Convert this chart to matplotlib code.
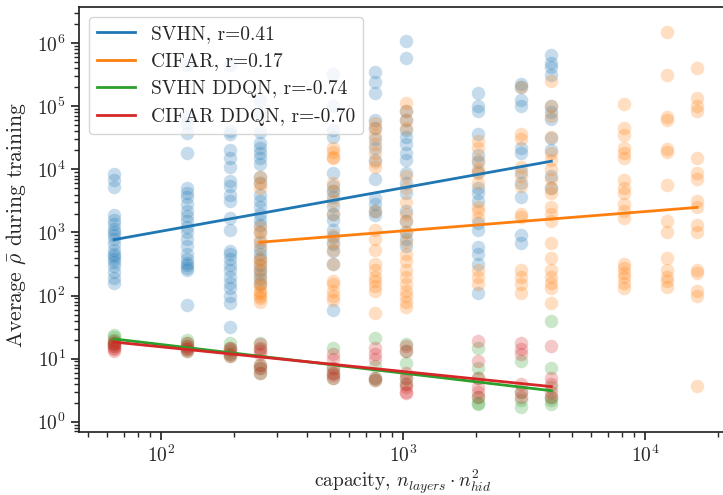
import numpy as np
import matplotlib
matplotlib.use("Agg")
import matplotlib.pyplot as plt
from matplotlib.ticker import LogLocator, NullFormatter

# ---------------- data ----------------
svhn_caps = [64, 128, 192, 256, 512, 768, 1024, 2048, 3072, 4096]
svhn_vals = [
    [8500, 6800, 5300, 1900, 1600, 1350, 1150, 1000, 900, 800, 650, 520, 460, 420, 380, 340, 290, 240, 190, 160],
    [450000, 70000, 55000, 38000, 18000, 5000, 4200, 3600, 2800, 2200, 1800, 1500, 1200, 1000, 800, 600, 450, 380, 330, 300, 270, 250, 70],
    [450000, 40000, 36000, 20000, 15000, 11000, 6500, 5500, 4000, 3200, 1700, 1100, 500, 450, 380, 300, 250, 200, 160, 130, 100, 75, 32],
    [125000, 77000, 39000, 26000, 22000, 18000, 15000, 12000, 7500, 6000, 4000, 3200, 2500, 2000, 1600, 1300, 1000, 700, 550, 450, 380, 300, 250, 220, 180, 150],
    [330000, 100000, 42000, 33000, 8700, 5500, 4500, 3600, 2600, 2000, 1600, 1100, 850, 650, 500, 320, 58],
    [350000, 245000, 160000, 60000, 45000, 30000, 22000, 14000, 7100, 3500, 2800, 2200, 1900],
    [1100000, 580000, 85000, 60000, 42000, 33000, 25000, 18000, 14000, 8700, 6000, 4200, 2200, 1500, 1000, 800, 600],
    [165000, 100000, 85000, 37000, 17000, 13000, 9000, 5000, 4200, 3200, 1400, 1100, 580, 450, 320, 108],
    [230000, 200000, 125000, 100000, 22000, 18000, 9000, 6000, 3600, 900, 680],
    [650000, 480000, 420000, 310000, 100000, 80000, 62000, 32000, 20000, 8000, 5000],
]

cifar_caps = [256, 512, 768, 1024, 2048, 3072, 4096, 8192, 12288, 16384]
cifar_vals = [
    [7500, 6000, 5000, 1200, 1000, 800, 600, 400, 350, 300, 250, 200, 160, 140, 120, 110, 100, 90, 80],
    [22000, 19000, 16000, 15000, 6000, 4500, 3200, 2000, 900, 700, 520, 320, 170, 150, 120, 100, 85],
    [55000, 45000, 35000, 25000, 18000, 13000, 11000, 2200, 1100, 800, 520, 320, 250, 200, 170, 140, 120, 52],
    [115000, 85000, 60000, 45000, 8000, 5000, 3000, 2000, 1500, 1000, 700, 450, 350, 250, 200, 150, 120, 100, 80, 65],
    [28000, 22000, 14000, 10000, 8700, 6000, 2500, 1700, 2200, 250, 200, 155],
    [200000, 37000, 30000, 11000, 8000, 5500, 2000, 1750, 250, 200, 150, 108],
    [250000, 100000, 70000, 33000, 18000, 14000, 10000, 7000, 5000, 4200, 2500, 2000, 1500, 680, 390, 250, 200, 160, 130, 75],
    [110000, 45000, 35000, 22000, 18000, 15000, 6700, 5000, 4300, 2800, 2200, 1700, 320, 270, 230, 200, 160, 130],
    [1500000, 320000, 67000, 60000, 21000, 19000, 5600, 1500, 1000, 390, 250, 200, 170, 135],
    [400000, 135000, 100000, 85000, 15000, 8700, 7000, 3200, 2500, 1300, 1000, 250, 230, 120, 100, 3.7],
]

ddqn_caps = [64, 128, 192, 256, 512, 768, 1024, 2048, 3072, 4096]
svhn_ddqn_vals = [
    [24, 22, 20, 18, 17, 16],
    [20, 18, 16, 14, 13],
    [18, 15, 13, 12, 11],
    [18, 14, 8, 7, 6],
    [15, 7, 6, 5],
    [21, 7.7, 5, 4.5],
    [17, 13, 8.6, 5, 4],
    [15, 7, 5, 2.5, 2, 1.9],
    [9.3, 3, 2.2, 1.7],
    [40, 7.2, 3.5, 2.5, 2.2, 1.9],
]
cifar_ddqn_vals = [
    [19, 18, 17, 16, 15, 14, 13],
    [18, 16, 15, 14, 13],
    [15, 14, 12, 11],
    [17, 15, 13, 12, 8, 7, 6],
    [12, 10, 7, 6, 5.5, 5],
    [15, 12, 10, 5, 4.5],
    [16, 13, 6, 5, 4, 3.5, 3, 2.8],
    [19, 9.3, 5, 3.5, 3, 2.5],
    [18, 14, 12, 4, 3, 2.5],
    [16, 5, 4, 3, 2.5],
]

# fitted lines (log-log) end points
svhn_fit_x = [64, 4096]
svhn_fit_y = [770, 13500]
cifar_fit_x = [256, 16384]
cifar_fit_y = [700, 2500]
svhn_ddqn_fit_x = [64, 4096]
svhn_ddqn_fit_y = [20.5, 3.1]
cifar_ddqn_fit_x = [64, 4096]
cifar_ddqn_fit_y = [18.3, 3.6]

labels = ["SVHN, r=0.41", "CIFAR, r=0.17", "SVHN DDQN, r=-0.74", "CIFAR DDQN, r=-0.70"]
colors = ["#1f77b4", "#ff7f0e", "#2ca02c", "#d62728"]

# ---------------- style ----------------
plt.rcParams.update({
    "font.family": "serif",
    "font.serif": ["cmr10"],
    "mathtext.fontset": "cm",
    "axes.formatter.use_mathtext": True,
    "axes.unicode_minus": False,
    "font.size": 14,
    "axes.edgecolor": "#262626",
    "axes.linewidth": 1.25,
    "xtick.color": "#262626",
    "ytick.color": "#262626",
    "text.color": "#262626",
    "axes.labelcolor": "#262626",
    "xtick.major.size": 6, "ytick.major.size": 6,
    "xtick.minor.size": 3.5, "ytick.minor.size": 3.5,
    "xtick.major.width": 1.25, "ytick.major.width": 1.25,
    "xtick.minor.width": 1.0, "ytick.minor.width": 1.0,
})

fig = plt.figure(figsize=(7.23, 4.95), dpi=100)
ax = fig.add_axes([79/723, (495-431.7)/495, 648/723, 424.4/495])


def flatten(caps, vals):
    xs, ys = [], []
    for c, vs in zip(caps, vals):
        xs += [c] * len(vs)
        ys += list(vs)
    return xs, ys


series = [
    (svhn_caps, svhn_vals, svhn_fit_x, svhn_fit_y),
    (cifar_caps, cifar_vals, cifar_fit_x, cifar_fit_y),
    (ddqn_caps, svhn_ddqn_vals, svhn_ddqn_fit_x, svhn_ddqn_fit_y),
    (ddqn_caps, cifar_ddqn_vals, cifar_ddqn_fit_x, cifar_ddqn_fit_y),
]
for (caps, vals, fx, fy), col, lab in zip(series, colors, labels):
    xs, ys = flatten(caps, vals)
    ax.scatter(xs, ys, s=95, color=col, alpha=0.25, linewidths=0)
    ax.plot(fx, fy, color=col, lw=2.0, label=lab)

ax.set_xscale("log")
ax.set_yscale("log")
ax.set_xlim(10**1.661, 10**4.338)
ax.set_ylim(10**-0.159, 10**6.571)
ax.yaxis.set_major_locator(LogLocator(base=10, numticks=20))
ax.yaxis.set_minor_locator(LogLocator(base=10, subs=np.arange(2, 10), numticks=100))
ax.yaxis.set_minor_formatter(NullFormatter())
ax.xaxis.set_minor_locator(LogLocator(base=10, subs=np.arange(2, 10), numticks=100))
ax.xaxis.set_minor_formatter(NullFormatter())

ax.set_xlabel(r"capacity, $n_{layers} \cdot n_{hid}^2$", labelpad=1)
ax.set_ylabel(r"Average $\bar{\rho}$ during training", fontsize=15.5)
ax.yaxis.set_label_coords(-0.079, 0.487)

ax.legend(loc="upper left", fontsize=14, framealpha=0.8, borderaxespad=0.5)

fig.savefig("out.png", dpi=100)
